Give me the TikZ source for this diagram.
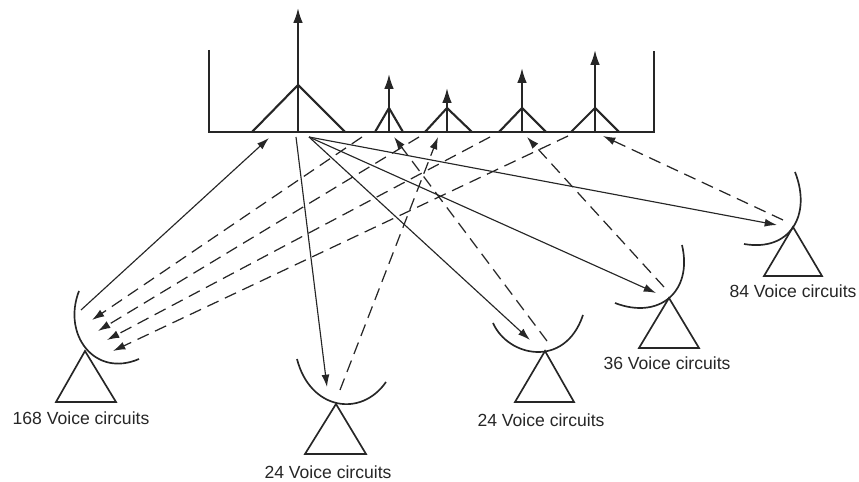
\documentclass[tikz,border=0pt]{standalone}
\usepackage{fontspec}
\setmainfont{Liberation Sans}
\usetikzlibrary{arrows.meta}
\tikzstyle{spectrum}=[line width=1.2pt, draw=black!85]
\tikzstyle{spike}=[line width=1.1pt, draw=black!85, -{Latex[length=8.5pt, width=5.5pt]}]
\tikzstyle{dish}=[line width=0.95pt, draw=black!85]
\tikzstyle{uplink}=[line width=0.65pt, draw=black!85, -{Latex[length=7pt, width=4.5pt]}]
\tikzstyle{downlink}=[uplink, line width=0.7pt, dash pattern=on 7pt off 4pt]
\tikzstyle{circuits}=[inner sep=0pt, text=black!85, font=\fontsize{10}{12}\selectfont]

\begin{document}
\begin{tikzpicture}[x=0.02cm, y=-0.02cm]
        \useasboundingbox (0, 0) rectangle (859, 482);

        % spectrum
        \coordinate (wallL) at (209, 50);
        \coordinate (cornerL) at (209, 132);
        \coordinate (cornerR) at (654, 132);
        \coordinate (wallR) at (654, 51);
        \draw[spectrum] (wallL) -- (cornerL) -- (cornerR) -- (wallR);

        \coordinate (P1) at (298, 85);
        \coordinate (P2) at (389, 108);
        \coordinate (P3) at (447, 108);
        \coordinate (P4) at (522, 108);
        \coordinate (P5) at (595, 108);
        \coordinate (top1) at (298, 8);
        \coordinate (top2) at (389, 74);
        \coordinate (top3) at (447, 88);
        \coordinate (top4) at (522, 68);
        \coordinate (top5) at (595, 50);
        \draw[spectrum] (252, 132) -- (P1) -- (345, 132);
        \draw[spectrum] (375, 132) -- (P2) -- (403, 132);
        \draw[spectrum] (425, 132) -- (P3) -- (472, 132);
        \draw[spectrum] (499, 132) -- (P4) -- (546, 132);
        \draw[spectrum] (571, 132) -- (P5) -- (619, 132);
        \draw[spike] (P1 |- cornerL) -- (top1);
        \draw[spike] (P2 |- cornerL) -- (top2);
        \draw[spike] (P3 |- cornerL) -- (top3);
        \draw[spike] (P4 |- cornerL) -- (top4);
        \draw[spike] (P5 |- cornerL) -- (top5);

        % earth stations
        \coordinate (E1) at (85, 351);
        \coordinate (E2) at (336, 404);
        \coordinate (E3) at (545, 351);
        \coordinate (E4) at (669, 298);
        \coordinate (E5) at (793, 227);
        \draw[dish] (E1) -- (56, 402) -- (116, 402) -- cycle;
        \draw[dish] (E2) -- (305, 454) -- (366, 454) -- cycle;
        \draw[dish] (E3) -- (515, 402) -- (574, 402) -- cycle;
        \draw[dish] (E4) -- (639, 348) -- (699, 348) -- cycle;
        \draw[dish] (E5) -- (764, 276) -- (822, 276) -- cycle;
        \draw[dish] (79, 291) .. controls (62, 335) and (95, 378) .. (139, 359);
        \draw[dish] (297, 359) .. controls (310, 410) and (361, 418) .. (386, 382);
        \draw[dish] (493, 323) .. controls (508, 357) and (565, 369) .. (583, 315);
        \draw[dish] (682, 245) .. controls (693, 292) and (659, 320) .. (615, 303);
        \draw[dish] (795, 172) .. controls (812, 215) and (790, 252) .. (744, 244);

        \node[circuits] (L1) at (81, 418) {168 Voice circuits};
        \node[circuits] (L2) at (328, 472) {24 Voice circuits};
        \node[circuits] (L3) at (541, 420) {24 Voice circuits};
        \node[circuits] (L4) at (667, 363) {36 Voice circuits};
        \node[circuits] (L5) at (793, 291) {84 Voice circuits};

        % solid links
        \coordinate (in1) at (269, 138);
        \coordinate (out1) at (81, 310);
        \coordinate (hub) at (309, 137);
        \coordinate (hubB) at (296, 137);
        \coordinate (rx2) at (327, 387);
        \coordinate (rx3) at (530, 340);
        \coordinate (rx4) at (656, 293);
        \coordinate (rx5) at (777, 225);
        \draw[uplink] (out1) -- (in1);
        \draw[uplink] (hubB) -- (rx2);
        \draw[uplink] (hub) -- (rx3);
        \draw[uplink] (hub) -- (rx4);
        \draw[uplink] (hub) -- (rx5);

        % dashed links
        \coordinate (d1) at (362, 137);
        \coordinate (d2) at (419, 137);
        \coordinate (d3) at (490, 137);
        \coordinate (d4) at (568, 136);
        \coordinate (tip1) at (92, 320);
        \coordinate (tip2) at (98, 331);
        \coordinate (tip3) at (107, 340);
        \coordinate (tip4) at (113, 351);
        \draw[downlink] (d1) -- (tip1);
        \draw[downlink] (d2) -- (tip2);
        \draw[downlink] (d3) -- (tip3);
        \draw[downlink] (d4) -- (tip4);

        \coordinate (tx2) at (340, 390);
        \coordinate (tx3) at (547, 341);
        \coordinate (tx4) at (664, 287);
        \coordinate (tx5) at (783, 220);
        \coordinate (up2) at (438, 137);
        \coordinate (up3) at (394, 137);
        \coordinate (up4) at (527, 137);
        \coordinate (up5) at (603, 136);
        \draw[downlink] (tx2) -- (up2);
        \draw[downlink] (tx3) -- (up3);
        \draw[downlink] (tx4) -- (up4);
        \draw[downlink] (tx5) -- (up5);
    \end{tikzpicture}
\end{document}
